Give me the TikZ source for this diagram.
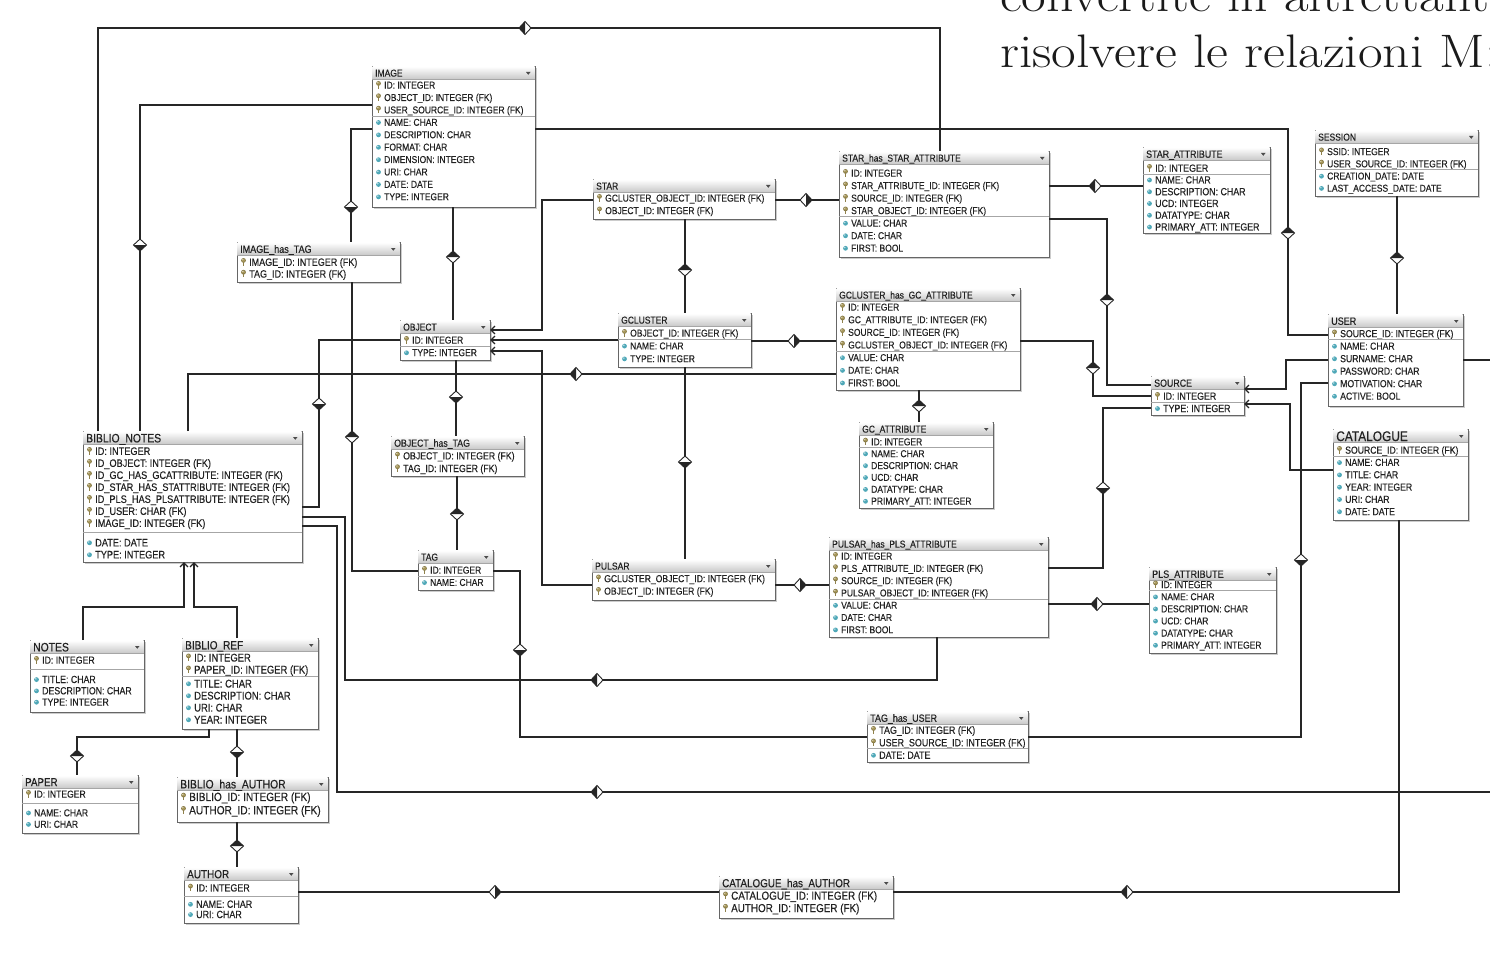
\documentclass[tikz,border=0pt]{standalone}
\usepackage{graphicx}
\usepackage{fontspec}
\usetikzlibrary{arrows.meta}
\newfontfamily\erfont{Liberation Sans}[FakeStretch=0.85,FakeBold=0.3]
\definecolor{conncol}{HTML}{262626}
\definecolor{tborder}{HTML}{666666}
\definecolor{txtcol}{HTML}{222222}
\definecolor{keycol}{HTML}{A8985A}
\definecolor{attrcol}{HTML}{4FA8B8}
\definecolor{capcol}{HTML}{1A1A1A}
\def\erfs{10}
\def\erts{10}
% row font size and title font size for the next table
\newcommand\setfs[2]{\def\erfs{#1}\def\erts{#2}}

% \ertable{name}{x}{y}{width}{height}{title}{first row offset}{row height}{rows}
% rows: K/text = key column, A/text = attribute, S/gap = separator line
\newcommand\ertable[9]{%
  \xdef\erX{#2}\xdef\erW{#4}\xdef\erH{#8}%
  \fill[tshadow] (#2+2.2,#3+2.2) rectangle (#2+#4+2.2,#3+#5+2.2);
  \node[tbox, minimum width=#4pt, minimum height=#5pt, anchor=north west] (#1) at (#2,#3) {};
  \shade[thead] (#2+0.5,#3+0.5) rectangle (#2+#4-0.5,#3+13.5);
  \draw[tsep] (#2,#3+13.7) -- (#2+#4,#3+13.7);
  \node[ttitle] (#1-title) at (#2+3,#3+7+0.36*\erts) {#6};
  \fill[black!70] (#2+#4-9,#3+6) -- (#2+#4-4.5,#3+6) -- (#2+#4-6.75,#3+8.8) -- cycle;
  \pgfmathsetmacro\erY{#3+#7}\global\let\erY\erY
  \gdef\erN{0}%
  \foreach \kind/\txt in {#9}{%
    \if S\kind
      \pgfmathsetmacro\erSy{\erY-\erH/2+\txt/2}%
      \draw[tsep] (\erX,\erSy) -- (\erX+\erW,\erSy);
      \pgfmathsetmacro\erY{\erY+\txt}\global\let\erY\erY
    \else
      \pgfmathtruncatemacro\erM{\erN+1}\global\let\erN\erM
      \if K\kind \pic at (\erX+6.5,\erY) {keyic};\else \pic at (\erX+6.5,\erY) {attric};\fi
      \node[trow] (#1-r\erN) at (\erX+12,\erY+0.36*\erfs) {\txt};
      \pgfmathsetmacro\erY{\erY+\erH}\global\let\erY\erY
    \fi
  }%
}

\begin{document}
\begin{tikzpicture}[x=1pt,y=-1pt,
  tbox/.style={draw=tborder, fill=white, line width=0.9pt, inner sep=0pt, outer sep=0pt, rectangle},
  tshadow/.style={fill=black!20},
  thead/.style={top color=white, bottom color=black!22},
  tsep/.style={draw=black!35, line width=0.6pt},
  ttitle/.style={anchor=base west, inner sep=0pt, text=txtcol, font=\erfont\fontsize{\erts}{\erts}\selectfont},
  trow/.style={anchor=base west, inner sep=0pt, text=txtcol, font=\erfont\fontsize{\erfs}{\erfs}\selectfont},
  conn/.style={draw=conncol, line width=1.3pt},
  gen/.style={conn, -{Straight Barb[length=4pt,width=8pt]}},
  genr/.style={conn, {Straight Barb[length=4pt,width=8pt]}-},
  caption/.style={anchor=base west, inner sep=0pt, text=capcol, font=\fontsize{47}{56}\selectfont},
  keyic/.pic={
    \fill[keycol!80!black] (0,-1.6) circle (2.4);
    \fill[keycol] (0,-1.6) circle (1.9);
    \fill[keycol!85!black] (-0.9,-0.5) rectangle (0.9,3.6);
    \fill[white!65!keycol] (-0.7,-2.3) circle (0.7);
  },
  attric/.pic={
    \fill[attrcol] (0,0.3) circle (2.4);
    \fill[white!60!attrcol] (-0.7,-0.5) circle (0.9);
  },
  hd/.pic={
    \fill[white] (-6.5,0) -- (0,-6) -- (6.5,0) -- (0,6) -- cycle;
    \fill[conncol] (-6.5,0) -- (0,-6) -- (6.5,0) -- cycle;
    \draw[conncol, line width=0.9pt, line join=miter] (-6.5,0) -- (0,-6) -- (6.5,0) -- (0,6) -- cycle;
  }
]
\useasboundingbox (0,0) rectangle (1490,960);
\fill[white] (0,0) rectangle (1490,960);
\clip (0,0) rectangle (1490,960);

% heading text running off the top right corner
\node[caption] (cap1) at (1000,12) {\scalebox{1.14}[1]{convertite in altrettante}};
\node[caption] (cap2) at (1000,68) {\scalebox{1.14}[1]{risolvere le relazioni M:N}};

% ---------------- tables ----------------
\setfs{10}{10}
\ertable{image}{372}{66}{163}{141}{IMAGE}{19}{12.4}{%
K/ID: INTEGER,%
K/OBJECT\_ID: INTEGER (FK),%
K/USER\_SOURCE\_ID: INTEGER (FK),%
S/0,%
A/NAME: CHAR,%
A/DESCRIPTION: CHAR,%
A/FORMAT: CHAR,%
A/DIMENSION: INTEGER,%
A/URI: CHAR,%
A/DATE: DATE,%
A/TYPE: INTEGER}

\setfs{10.6}{10.6}
\ertable{imgtag}{237}{242}{163}{40}{IMAGE\_has\_TAG}{20}{11.8}{%
K/IMAGE\_ID: INTEGER (FK),%
K/TAG\_ID: INTEGER (FK)}

\setfs{10}{10}
\ertable{star}{593}{179}{182}{40}{STAR}{19}{12.5}{%
K/GCLUSTER\_OBJECT\_ID: INTEGER (FK),%
K/OBJECT\_ID: INTEGER (FK)}

\ertable{starhas}{839}{151}{210}{106}{STAR\_has\_STAR\_ATTRIBUTE}{22}{12.5}{%
K/ID: INTEGER,%
K/STAR\_ATTRIBUTE\_ID: INTEGER (FK),%
K/SOURCE\_ID: INTEGER (FK),%
K/STAR\_OBJECT\_ID: INTEGER (FK),%
S/0,%
A/VALUE: CHAR,%
A/DATE: CHAR,%
A/FIRST: BOOL}

\setfs{10.4}{10.4}
\ertable{starattr}{1143}{147}{127}{86}{STAR\_ATTRIBUTE}{21}{11.75}{%
K/ID: INTEGER,%
S/0,%
A/NAME: CHAR,%
A/DESCRIPTION: CHAR,%
A/UCD: INTEGER,%
A/DATATYPE: CHAR,%
A/PRIMARY\_ATT: INTEGER}

\setfs{10}{10}
\ertable{session}{1315}{130}{163}{66}{SESSION}{21.5}{12.2}{%
K/SSID: INTEGER,%
K/USER\_SOURCE\_ID: INTEGER (FK),%
S/0,%
A/CREATION\_DATE: DATE,%
A/LAST\_ACCESS\_DATE: DATE}

\ertable{object}{400}{320}{90}{40}{OBJECT}{20}{12.5}{%
K/ID: INTEGER,%
S/0,%
A/TYPE: INTEGER}

\ertable{gcluster}{618}{313}{133}{54}{GCLUSTER}{20}{12.8}{%
K/OBJECT\_ID: INTEGER (FK),%
S/0,%
A/NAME: CHAR,%
A/TYPE: INTEGER}

\ertable{gchas}{836}{288}{184}{102}{GCLUSTER\_has\_GC\_ATTRIBUTE}{19}{12.62}{%
K/ID: INTEGER,%
K/GC\_ATTRIBUTE\_ID: INTEGER (FK),%
K/SOURCE\_ID: INTEGER (FK),%
K/GCLUSTER\_OBJECT\_ID: INTEGER (FK),%
S/0,%
A/VALUE: CHAR,%
A/DATE: CHAR,%
A/FIRST: BOOL}

\setfs{10.2}{10.6}
\ertable{user}{1328}{314}{135}{92}{USER}{19.5}{12.5}{%
K/SOURCE\_ID: INTEGER (FK),%
S/0,%
A/NAME: CHAR,%
A/SURNAME: CHAR,%
A/PASSWORD: CHAR,%
A/MOTIVATION: CHAR,%
A/ACTIVE: BOOL}

\setfs{10.4}{10.4}
\ertable{source}{1151}{376}{93}{39}{SOURCE}{20}{12.3}{%
K/ID: INTEGER,%
S/0,%
A/TYPE: INTEGER}

\setfs{10.2}{14}
\ertable{catalogue}{1333}{429}{135}{91}{CATALOGUE}{21}{12.3}{%
K/SOURCE\_ID: INTEGER (FK),%
S/0,%
A/NAME: CHAR,%
A/TITLE: CHAR,%
A/YEAR: INTEGER,%
A/URI: CHAR,%
A/DATE: DATE}

\setfs{10.8}{12.2}
\ertable{bnotes}{83}{431}{219}{131}{BIBLIO\_NOTES}{20}{12}{%
K/ID: INTEGER,%
K/ID\_OBJECT: INTEGER (FK),%
K/ID\_GC\_HAS\_GCATTRIBUTE: INTEGER (FK),%
K/ID\_STAR\_HAS\_STATTRIBUTE: INTEGER (FK),%
K/ID\_PLS\_HAS\_PLSATTRIBUTE: INTEGER (FK),%
K/ID\_USER: CHAR (FK),%
K/IMAGE\_ID: INTEGER (FK),%
S/7.5,%
A/DATE: DATE,%
A/TYPE: INTEGER}

\setfs{10.3}{10.3}
\ertable{objtag}{391}{436}{133}{40}{OBJECT\_has\_TAG}{19.7}{12.6}{%
K/OBJECT\_ID: INTEGER (FK),%
K/TAG\_ID: INTEGER (FK)}

\setfs{10}{10}
\ertable{gcattr}{859}{422}{134}{86}{GC\_ATTRIBUTE}{19.7}{11.86}{%
K/ID: INTEGER,%
S/0,%
A/NAME: CHAR,%
A/DESCRIPTION: CHAR,%
A/UCD: CHAR,%
A/DATATYPE: CHAR,%
A/PRIMARY\_ATT: INTEGER}

\ertable{tag}{418}{550}{75}{40}{TAG}{20}{12.3}{%
K/ID: INTEGER,%
S/0,%
A/NAME: CHAR}

\setfs{10.1}{10.1}
\ertable{pulsar}{592}{559}{183}{41}{PULSAR}{19.5}{12.5}{%
K/GCLUSTER\_OBJECT\_ID: INTEGER (FK),%
K/OBJECT\_ID: INTEGER (FK)}

\setfs{10}{10}
\ertable{plshas}{829}{537}{219}{100}{PULSAR\_has\_PLS\_ATTRIBUTE}{19}{12.27}{%
K/ID: INTEGER,%
K/PLS\_ATTRIBUTE\_ID: INTEGER (FK),%
K/SOURCE\_ID: INTEGER (FK),%
K/PULSAR\_OBJECT\_ID: INTEGER (FK),%
S/0,%
A/VALUE: CHAR,%
A/DATE: CHAR,%
A/FIRST: BOOL}

\setfs{10}{10.6}
\ertable{plsattr}{1149}{567}{127}{86}{PLS\_ATTRIBUTE}{17.5}{12.1}{%
K/ID: INTEGER,%
S/0,%
A/NAME: CHAR,%
A/DESCRIPTION: CHAR,%
A/UCD: CHAR,%
A/DATATYPE: CHAR,%
A/PRIMARY\_ATT: INTEGER}

\setfs{10.3}{12.2}
\ertable{notes}{30}{640}{114}{72}{NOTES}{20}{11.3}{%
K/ID: INTEGER,%
S/8,%
A/TITLE: CHAR,%
A/DESCRIPTION: CHAR,%
A/TYPE: INTEGER}

\setfs{11.1}{11.8}
\ertable{biblioref}{182}{638}{136}{91}{BIBLIO\_REF}{19.5}{12}{%
K/ID: INTEGER,%
K/PAPER\_ID: INTEGER (FK),%
S/2,%
A/TITLE: CHAR,%
A/DESCRIPTION: CHAR,%
A/URI: CHAR,%
A/YEAR: INTEGER}

\setfs{10.1}{11.5}
\ertable{paper}{22}{775}{116}{58}{PAPER}{19}{11.4}{%
K/ID: INTEGER,%
S/7.3,%
A/NAME: CHAR,%
A/URI: CHAR}

\setfs{11.9}{12.2}
\ertable{bibauth}{177}{777}{151}{45}{BIBLIO\_has\_AUTHOR}{19.7}{13.3}{%
K/BIBLIO\_ID: INTEGER (FK),%
K/AUTHOR\_ID: INTEGER (FK)}

\setfs{10.5}{11.7}
\ertable{author}{184}{867}{114}{56}{AUTHOR}{20.7}{10.3}{%
K/ID: INTEGER,%
S/6,%
A/NAME: CHAR,%
A/URI: CHAR}

\setfs{10.5}{10.5}
\ertable{taguser}{867}{711}{161}{51}{TAG\_has\_USER}{19}{12.5}{%
K/TAG\_ID: INTEGER (FK),%
K/USER\_SOURCE\_ID: INTEGER (FK),%
S/0,%
A/DATE: DATE}

\setfs{11.6}{11.6}
\ertable{cathas}{719}{876}{174}{42}{CATALOGUE\_has\_AUTHOR}{19.5}{12.4}{%
K/CATALOGUE\_ID: INTEGER (FK),%
K/AUTHOR\_ID: INTEGER (FK)}

% ---------------- connectors ----------------
\coordinate (userOut) at (1490,360);
\coordinate (notesOut) at (1490,792);

\draw[conn] (bnotes.north -| 98,0) -- (98,28) -| (starhas.north -| 940,0);
\draw[conn] (image.west |- 0,105) -| (bnotes.north -| 140,0);
\draw[conn] (image.west |- 0,129) -| (imgtag.north -| 351,0);
\draw[conn] (image.south -| 453,0) -- (object.north -| 453,0);
\draw[conn] (image.east |- 0,129) -- (1288,129) |- (user.west |- 0,335);
\draw[gen] (star.west |- 0,200) -| (542,330) -- (object.east |- 0,330);
\draw[genr] (object.east |- 0,340) -- (gcluster.west |- 0,340);
\draw[gen] (pulsar.west |- 0,585) -| (542,351) -- (object.east |- 0,351);
\draw[conn] (star.east |- 0,200) -- (starhas.west |- 0,200);
\draw[conn] (star.south -| 685,0) -- (gcluster.north -| 685,0);
\draw[conn] (gcluster.east |- 0,341) -- (gchas.west |- 0,341);
\draw[conn] (gcluster.south -| 685,0) -- (pulsar.north -| 685,0);
\draw[conn] (pulsar.east |- 0,585) -- (plshas.west |- 0,585);
\draw[conn] (starhas.east |- 0,186) -- (starattr.west |- 0,186);
\draw[conn] (starhas.east |- 0,219) -| (1107,385) -- (source.west |- 0,385);
\draw[conn] (gchas.east |- 0,341) -| (1093,396) -- (source.west |- 0,396);
\draw[conn] (plshas.east |- 0,568) -| (1103,408) -- (source.west |- 0,408);
\draw[conn] (plshas.east |- 0,604) -- (plsattr.west |- 0,604);
\draw[conn] (gchas.south -| 919,0) -- (gcattr.north -| 919,0);
\draw[gen] (user.west |- 0,360) -| (1286,389) -- (source.east |- 0,389);
\draw[gen] (catalogue.west |- 0,470) -| (1290,404) -- (source.east |- 0,404);
\draw[conn] (user.west |- 0,383) -| (1301,737) -- (taguser.east |- 0,737);
\draw[conn] (session.south -| 1397,0) -- (user.north -| 1397,0);
\draw[conn] (user.east |- 0,360) -- (userOut);
\draw[conn] (catalogue.south -| 1399,0) |- (cathas.east |- 0,892);
\draw[conn] (author.east |- 0,892) -- (cathas.west |- 0,892);
\draw[conn] (bnotes.east |- 0,526) -| (337,792) -- (notesOut);
\draw[conn] (bnotes.east |- 0,517) -| (345,680) -| (plshas.south -| 937,0);
\draw[conn] (object.west |- 0,340) -| (319,507) -- (bnotes.east |- 0,507);
\draw[conn] (bnotes.north -| 188,0) |- (gchas.west |- 0,374);
\draw[conn] (imgtag.south -| 352,0) |- (tag.west |- 0,571);
\draw[conn] (object.south -| 456,0) -- (objtag.north -| 456,0);
\draw[conn] (objtag.south -| 457,0) -- (tag.north -| 457,0);
\draw[conn] (tag.east |- 0,571) -| (520,737) -- (taguser.west |- 0,737);
\draw[gen] (notes.north -| 83,0) |- (184,607) -- (bnotes.south -| 184,0);
\draw[gen] (biblioref.north -| 237,0) |- (194,607) -- (bnotes.south -| 194,0);
\draw[conn] (biblioref.south -| 209,0) |- (77,737) -- (paper.north -| 77,0);
\draw[conn] (biblioref.south -| 237,0) -- (bibauth.north -| 237,0);
\draw[conn] (bibauth.south -| 237,0) -- (author.north -| 237,0);

% relationship diamonds (filled half faces the referencing table)
\pic[rotate=90] at (525,28) {hd};
\pic[rotate=180] at (140,245) {hd};
\pic[rotate=180] at (351,207) {hd};
\pic at (453,257) {hd};
\pic at (1288,233) {hd};
\pic[rotate=-90] at (806,200) {hd};
\pic at (685,270) {hd};
\pic[rotate=-90] at (794,341) {hd};
\pic[rotate=180] at (685,462) {hd};
\pic[rotate=-90] at (800,585) {hd};
\pic[rotate=90] at (1095,186) {hd};
\pic at (1107,300) {hd};
\pic at (1093,368) {hd};
\pic[rotate=180] at (1103,488) {hd};
\pic[rotate=90] at (1097,604) {hd};
\pic at (919,406) {hd};
\pic[rotate=180] at (1301,560) {hd};
\pic at (1397,258) {hd};
\pic[rotate=90] at (1127,892) {hd};
\pic[rotate=-90] at (495,892) {hd};
\pic[rotate=90] at (597,792) {hd};
\pic[rotate=90] at (597,680) {hd};
\pic[rotate=180] at (319,404) {hd};
\pic[rotate=90] at (576,374) {hd};
\pic at (352,437) {hd};
\pic[rotate=180] at (456,397) {hd};
\pic at (457,514) {hd};
\pic[rotate=180] at (520,650) {hd};
\pic at (77,756) {hd};
\pic[rotate=180] at (237,752) {hd};
\pic at (237,846) {hd};
\end{tikzpicture}
\end{document}
